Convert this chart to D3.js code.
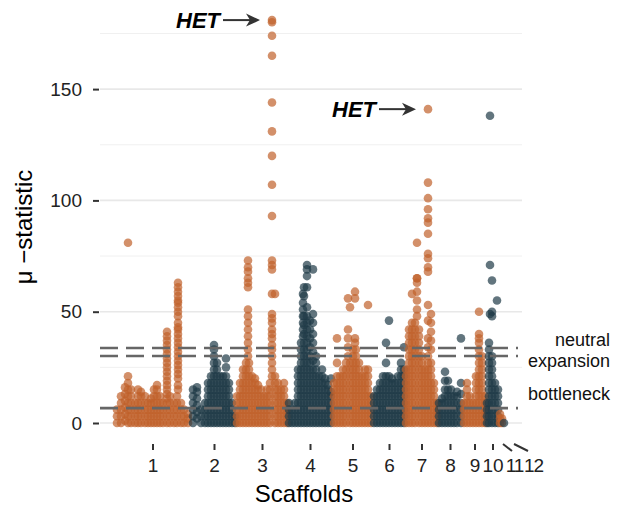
<!DOCTYPE html>
<html>
<head>
<meta charset="utf-8">
<script src="https://cdn.jsdelivr.net/npm/d3@7"></script>
<style>
  body { margin: 0; background: #ffffff; }
  text { font-family: "Liberation Sans", Arial, sans-serif; }
</style>
</head>
<body>
<script>
// scaffold names, in genome order
var scaffolds = ["1", "2", "3", "4", "5", "6", "7", "8", "9", "10", "11", "12"];

// mu-statistic per window
// "position: values at that position" (cumulative position, arbitrary units)
var scaffold1 = "17:0 3 6|21:0 3 6 9 12|25:1 4 7 10 13 16|28:0 3 6 9 12 15 18 21 81|31:0 3 6 9 12 15|35:0 3 6 9|38:0 3 6 9 12 15|41:0 3 6 9 12 14|45:0 3 6 9 12|48:0 3 6 9|51:0 3 6 9 11|54:0 3 6 9 12 15|57:0 3 6 9 12 15 17|60:0 3 6 9 12|63:0 3 6 9|67:0 3 6 9 11 13 15 17 19 21 23 25 27 29 31 33 35 37 39 41|70:0 3 6 9 12|74:0 3 6 9|77:0 3 6 9 12|78:15 17 20 22 24 26 28 30 32 34 36 38 40 42 43 45 48 50 52 54 55 57 59 61 63|81:0 3 6 9|84:0 3 6|88:0 2 4";
var scaffold2 = "93:0 3 6 9 12 15|97:2 5 8 11 14 16|101:0 3 6|105:0 3 6 9|108:0 3 6 9 12 15 18|111:0 3 6 9 12 15 18 21|114:0 3 6 9 12 15 18 21 24 27 30 33 35|117:0 3 6 9 12 15 18 21 24 27|120:0 3 6 9 12 15 18 21|123:0 3 6 9 12 15 18 21|126:0 3 6 9 12 15 18 21 25 29|129:0 3 6 9 12 15 18|132:0 3 6 9|135:0 3";
var scaffold3 = "137:0 3 6 9 12|140:0 3 6 9 12 15 18|143:0 3 6 9 12 15 18 21 24|146:0 3 6 9 12 15 18 21 24 27|148:30 33 36 39 42 45 48 51 61 63 65 68 70 73|149:0 3 6 9 12 15 18 21 24 27|152:0 3 6 9 12 15 18 21|155:0 3 6 9 12 15 18 20|158:0 3 6 9 12 15 17|161:0 3 6 9 12 15|164:0 3 6 9 12|167:0 3 6 9 12 15|170:0 3 6 9 12 15 18|172:21 24 27 30 33 35 38 40 42 45 47 49 58 69 71 73 93 107 120 131 144 165 174 180 181|175:0 3 6 9 12 15 18 21 58|178:0 3 6 9 12 15 18|181:0 3 6 9 12 15|184:0 3 6 9 12 15 18|187:0 3 6 9";
var scaffold4 = "189:0 3 6 9|192:0 3 6|195:0 3 6 9|198:0 3 6 9 12 15 18 21 24|201:0 3 6 9 12 15 18 21 24 27 30 33 36|203:39 42 45 48 51 54 58|204:0 3 6 9 12 15 18 21 24 27 30 33 36 40 44 48 57 61|207:0 3 6 9 12 15 18 21 24 27 30 33 36 39 42 45 48 52 61 66 69 71|210:0 3 6 9 12 15 18 21 24 27 30 34 38 42 46|213:0 3 6 9 12 15 18 21 24 28 32 36 40 45 49 69|216:0 3 6 9 12 15 18 21 24 27 30|219:0 3 6 9 12 15 18 21|222:0 3 6 9 12 15 18 21 24|225:0 3 6 9 12 15 18 20|228:0 3 6 9 12 15 17|231:0 3 6 9 12 14 20";
var scaffold5 = "234:0 3 6 9 12 15 18|237:0 3 6 9 12 15 18 21 27 38|240:0 3 6 9 12 15 18 21|243:0 3 6 9 12 15 18 21 24|246:0 3 6 9 12 15 18 21 24 27|248:30 34 38 42 56|250:0 3 6 9 12 15 18 21 24 27 52|253:0 3 6 9 12 15 18 21 24 27 30 33|255:36 38 56 59|256:0 3 6 9 12 15 18 21 24 27 30 33|259:0 3 6 9 12 15 18 21 24 27|262:0 3 6 9 12 15 18 21|265:0 3 6 9 12 15 18 21 24|268:0 3 6 9 12 15 18 21 24 53|271:0 3 6 9 12";
var scaffold6 = "274:0 3 6 9 12|277:0 3 6 9 12 15|280:0 3 6 9 12 15 18|283:0 3 6 9 12 15 18 21|286:0 3 6 9 12 15 18 21 27 36|289:0 3 6 9 12 15 18 21 46|292:0 3 6 9 12 15 18 20|295:0 3 6 9 12 15 18|298:0 3 6 9 12 15 18 21|301:0 3 6 9 12 15 18 21 24 27|304:0 3 6 9 12 15 18 21 24 34";
var scaffold7 = "306:0 3 6 9 12 15 18 21 24|309:0 3 6 9 12 15 18 21 24 27 30 33 36 39 42|312:0 3 6 9 12 15 18 21 24 27 30 33 36 39 42 45 58|315:0 3 6 9 12 15 18 21 24 27 30 33 36 39 42 45|317:48 51 55 59 63 65 65 81|319:0 3 6 9 12 15 18 21 24 27 30 33 36 39 42|322:0 3 6 9 12 15 18 21 24 27 30|325:0 3 6 9 12 15 18 21 24|328:0 3 6 9 12 15 18 21 24 27 30 34 38 46 53 68 70 74 76 85 90 92 96 101 108 141|331:0 3 6 9 12 15 18 21 24 27 33 37 41 45 49|334:0 3 6 9 12 15 18|337:0 3 6 9";
var scaffold8 = "339:0 3 6 9|342:0 3 6 9 11|345:0 3 6 9 12 15 19 23|348:0 3 6 9 12 15 19|351:0 3 6 9 12 15|354:0 3 6 9 12|357:0 3 6 9 12 14|361:0 3 6 9 13 18 38";
var scaffold9 = "364:0 3 6 9|367:0 3 6 9 12 15 18|370:0 3 6 9 12|373:0 3 6 9|376:0 3 6 9 12 15 18 21|379:0 3 6 9 12 15 18 21 24 27 30 33 36 38 40 50|382:0 3 6 9 12 15 18 21 24 27 30|385:0 3 6 9 12";
var scaffold10 = "387:0 3 6 9|389:0 3 6 9 12 15 18 21 24 27 30 33 36|390:49 71 138|392:0 3 6 9 12 15 18 21 24 27 30 48 50 64|395:0 3 6 9 12 15 18|397:55|398:0 3 6 9 12 15";
var scaffold11 = "400:0 2 4|402:0 2";
var scaffold12 = "404:0";

var yTicks = [0, 50, 100, 150];
var yMinor = [25, 75, 125, 175];

// demographic expectations
var thresholdNames = ["neutral", "expansion", "bottleneck"];
var thresholdValues = [33.7, 30.1, 6.7];
var thresholdLabelY = [34.6, 25.2, 10.3];

// highlighted outliers
var hetLabels = ["HET", "HET"];
var hetPos = [172, 328];
var hetValues = [181, 141];

var colors = ["#c0612b", "#1f3b47"];

var raw = [scaffold1, scaffold2, scaffold3, scaffold4, scaffold5, scaffold6,
           scaffold7, scaffold8, scaffold9, scaffold10, scaffold11, scaffold12];

var points = [];
raw.forEach(function(s, i) {
  s.split("|").forEach(function(col) {
    var parts = col.split(":");
    var pos = +parts[0];
    parts[1].trim().split(" ").forEach(function(v) {
      points.push({scaffold: i, pos: pos, value: +v});
    });
  });
});

// tick at the middle of each scaffold
var mids = scaffolds.map(function(name, i) {
  var ext = d3.extent(points.filter(function(p) { return p.scaffold == i; }), function(p) { return p.pos; });
  return (ext[0] + ext[1]) / 2;
});

var screen = {width: 621, height: 511};

var x = d3.scaleLinear().domain([0, 422]).range([100, 522]);
var y = d3.scaleLinear().domain([0, 175]).range([423, 33.45]);

var svg = d3.select("body")
            .append("svg")
            .attr("width", screen.width)
            .attr("height", screen.height);

// grid
svg.append("g")
   .selectAll("line")
   .data(yMinor)
   .enter()
   .append("line")
   .attr("x1", x.range()[0])
   .attr("x2", x.range()[1])
   .attr("y1", function(d) { return y(d); })
   .attr("y2", function(d) { return y(d); })
   .attr("stroke", "#f0f0f0")
   .attr("stroke-width", 1);

svg.append("g")
   .selectAll("line")
   .data(yTicks)
   .enter()
   .append("line")
   .attr("x1", x.range()[0])
   .attr("x2", x.range()[1])
   .attr("y1", function(d) { return y(d); })
   .attr("y2", function(d) { return y(d); })
   .attr("stroke", "#e8e8e8")
   .attr("stroke-width", 1.6);

// points
svg.append("g")
   .selectAll("circle")
   .data(points)
   .enter()
   .append("circle")
   .attr("cx", function(d) { return x(d.pos); })
   .attr("cy", function(d) { return y(d.value); })
   .attr("r", 4.3)
   .attr("fill", function(d) { return colors[d.scaffold % 2]; })
   .attr("fill-opacity", 0.7);

// threshold lines
svg.append("g")
   .selectAll("line")
   .data(thresholdValues)
   .enter()
   .append("line")
   .attr("x1", x.range()[0])
   .attr("x2", x.range()[1] - 4)
   .attr("y1", function(d) { return y(d); })
   .attr("y2", function(d) { return y(d); })
   .attr("stroke", "#666666")
   .attr("stroke-width", 2.6)
   .attr("stroke-dasharray", "18,8");

svg.append("g")
   .selectAll("text")
   .data(thresholdNames)
   .enter()
   .append("text")
   .attr("x", 610)
   .attr("y", function(d, i) { return y(thresholdLabelY[i]); })
   .attr("text-anchor", "end")
   .attr("font-size", "18px")
   .attr("fill", "#111")
   .text(function(d) { return d; });

// y axis
var yAxis = svg.append("g")
   .attr("transform", "translate(99,0)")
   .call(d3.axisLeft(y).tickValues(yTicks).tickSize(6).tickPadding(11));
yAxis.select(".domain").remove();
yAxis.selectAll("line").attr("stroke", "#333").attr("stroke-width", 2);
yAxis.selectAll("text").attr("font-size", "19px").attr("fill", "#222")
     .attr("font-family", "Liberation Sans, Arial, sans-serif");

// x axis: scaffolds 1-10 normal ticks
var xAxis = svg.append("g")
   .attr("transform", "translate(0,444)")
   .call(d3.axisBottom(x)
           .tickValues(mids.slice(0, 10))
           .tickFormat(function(d, i) { return scaffolds[i]; })
           .tickSize(6).tickPadding(8.5));
xAxis.select(".domain").remove();
xAxis.selectAll("line").attr("stroke", "#333").attr("stroke-width", 2);
xAxis.selectAll("text").attr("font-size", "19px").attr("fill", "#222")
     .attr("font-family", "Liberation Sans, Arial, sans-serif");

// last two scaffolds are tiny, ticks drawn slanted with labels pushed right
var slantTop = [2, 10];
var slantBottom = [11, 24];
var labelShift = [13.5, 29.5];
[10, 11].forEach(function(i, k) {
  svg.append("line")
     .attr("x1", x(mids[i]) + slantTop[k])
     .attr("y1", 444)
     .attr("x2", x(mids[i]) + slantBottom[k])
     .attr("y2", 451)
     .attr("stroke", "#333")
     .attr("stroke-width", 2);
  svg.append("text")
     .attr("x", x(mids[i]) + labelShift[k])
     .attr("y", 472)
     .attr("text-anchor", "middle")
     .attr("font-size", "19px")
     .attr("letter-spacing", "-1px")
     .attr("fill", "#222")
     .text(scaffolds[i]);
});

// axis titles
svg.append("text")
   .attr("x", 304)
   .attr("y", 502)
   .attr("text-anchor", "middle")
   .attr("font-size", "24px")
   .attr("fill", "#000")
   .text("Scaffolds");

svg.append("text")
   .attr("transform", "translate(32,227) rotate(-90)")
   .attr("text-anchor", "middle")
   .attr("font-size", "24px")
   .attr("fill", "#000")
   .text("\u03bc \u2212statistic");

// HET annotations
hetLabels.forEach(function(label, i) {
  var px = x(hetPos[i]);
  var py = y(hetValues[i]);
  svg.append("text")
     .attr("x", px - 52)
     .attr("y", py + 8)
     .attr("text-anchor", "end")
     .attr("font-size", "22px")
     .attr("font-weight", "bold")
     .attr("font-style", "italic")
     .attr("fill", "#000")
     .text(label);
  svg.append("line")
     .attr("x1", px - 49)
     .attr("x2", px - 22)
     .attr("y1", py)
     .attr("y2", py)
     .attr("stroke", "#333")
     .attr("stroke-width", 2);
  var tip = px - 12;
  svg.append("path")
     .attr("d", "M" + tip + "," + py +
                "L" + (tip - 14) + "," + (py - 6.5) +
                "L" + (tip - 10) + "," + py +
                "L" + (tip - 14) + "," + (py + 6.5) + "Z")
     .attr("fill", "#333");
});
</script>
</body>
</html>
